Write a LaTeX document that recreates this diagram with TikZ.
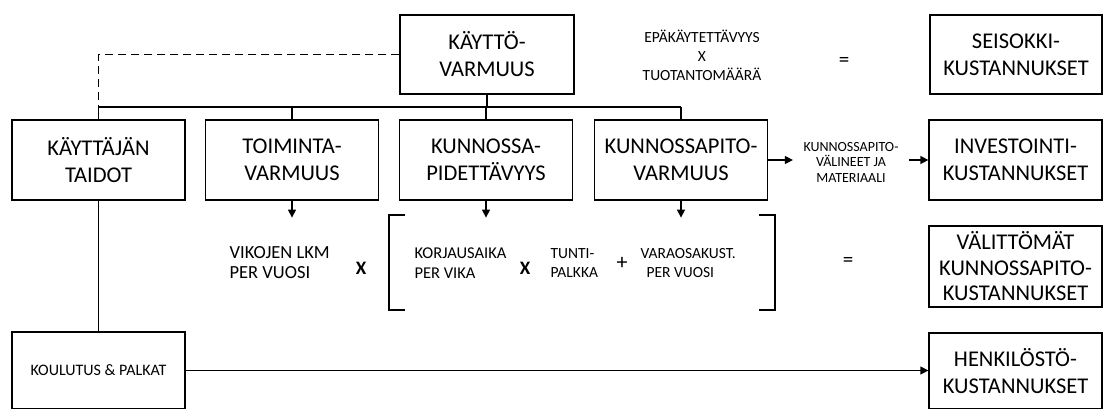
\documentclass[tikz,border=0pt]{standalone}
\usepackage{fontspec}
\setmainfont{Carlito}
\usetikzlibrary{arrows.meta}
\begin{document}
\begin{tikzpicture}[x=1pt,y=-1pt,
  line width=1.2pt,
  every node/.style={inner sep=0pt, align=center},
  box/.style={draw, minimum width=173pt, minimum height=80pt,
    font=\fontsize{22.5}{27}\selectfont},
  arr/.style={-{Triangle[length=8pt,width=8pt]}},
]
\useasboundingbox (0,0) rectangle (1103,408);

% top row
\node[box, minimum width=174pt, minimum height=79pt] (kv) at (487,54.5) {KÄYTTÖ-\\VARMUUS};
\node[box, minimum width=172pt, minimum height=79pt] (sk) at (1016,54.5) {SEISOKKI-\\KUSTANNUKSET};
\node[font=\fontsize{15.5}{19}\selectfont] (epa) at (702,55)
  {EPÄKÄYTETTÄVYYS\\X\\TUOTANTOMÄÄRÄ};
\node[font=\fontsize{21}{21}\selectfont] (eq1) at (844,62) {=};

% second row
\node[box] (kt)  at (98.5,160) {KÄYTTÄJÄN\\TAIDOT};
\node[box] (tv)  at (292,160)  {TOIMINTA-\\VARMUUS};
\node[box] (kp)  at (486,160)  {KUNNOSSA-\\PIDETTÄVYYS};
\node[box] (kpv) at (681,160)  {KUNNOSSAPITO-\\VARMUUS};
\node[box] (inv) at (1015.5,160) {INVESTOINTI-\\KUSTANNUKSET};
\node[font=\fontsize{14}{15.5}\selectfont, inner xsep=10pt] (kvm) at (851,162)
  {KUNNOSSAPITO-\\VÄLINEET JA\\MATERIAALI};

% cost formula row
\node[anchor=west, align=left, font=\fontsize{18.5}{20}\selectfont] (vik) at (229,263) {VIKOJEN LKM\\PER VUOSI};
\node[font=\bfseries\fontsize{19}{19}\selectfont] (x1) at (361,268) {X};
\node[anchor=west, align=left, font=\fontsize{16.5}{19.5}\selectfont] (kor) at (414,263) {KORJAUSAIKA\\PER VIKA};
\node[font=\bfseries\fontsize{19}{19}\selectfont] (x2) at (525,268) {X};
\node[anchor=west, align=left, font=\fontsize{15.5}{19.5}\selectfont] (tun) at (550,263) {TUNTI-\\PALKKA};
\node[font=\fontsize{22}{22}\selectfont] (plus) at (622,263) {+};
\node[anchor=west, align=left, font=\fontsize{15.5}{19.5}\selectfont] (var) at (640,263) {VARAOSAKUST.\\\hspace*{6pt}PER VUOSI};
\node[font=\fontsize{21}{21}\selectfont] (eq2) at (848,262) {=};
\node[box, minimum height=81pt, font=\fontsize{22.5}{25.5}\selectfont] (val) at (1015.5,266.5)
  {VÄLITTÖMÄT\\KUNNOSSAPITO-\\KUSTANNUKSET};

% brackets round the cost term
\draw (405,215) -- (389,215) -- (389,310) -- (405,310);
\draw (759,215) -- (775,215) -- (775,310) -- (759,310);

% bottom row
\node[box, minimum height=77pt, font=\fontsize{16}{19}\selectfont] (kou) at (98.5,370.5) {KOULUTUS \& PALKAT};
\node[box, minimum height=76pt] (hen) at (1015.5,371) {HENKILÖSTÖ-\\KUSTANNUKSET};

% tree connections
\coordinate (bus) at (0,107);
\draw (kv.south) -- (kv.south |- bus);
\draw (kt.north |- bus) -- (kpv.north |- bus);
\foreach \n in {kt,tv,kp,kpv} \draw (\n.north |- bus) -- (\n.north);
\draw[dash pattern=on 8pt off 5pt] (kv.west) -| (kt.north |- bus);

% arrows
\foreach \n in {tv,kp,kpv} {
  \path (\n.south) ++(0,17) coordinate (\n end);
  \draw[arr] (\n.south) -- (\n end);
}
\draw[arr] (kpv.east) -- (kpv.east -| kvm.west);
\draw[arr] (kvm.east |- kpv.east) -- (inv.west |- kpv.east);
\draw (kt.south) -- (kou.north);
\draw[arr] (kou.east) -- (kou.east -| hen.west);
\end{tikzpicture}
\end{document}
